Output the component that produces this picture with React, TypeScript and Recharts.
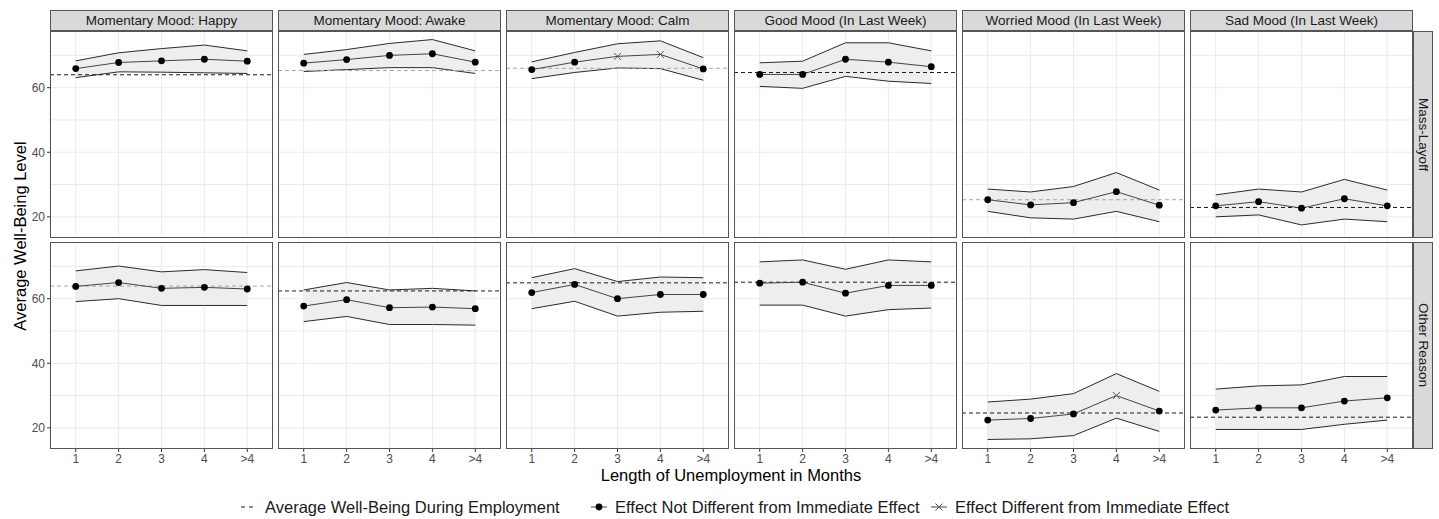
import React from 'react';
import { ComposedChart, Area, Line, XAxis, YAxis, CartesianGrid, ReferenceLine } from 'recharts';

const months = ['1', '2', '3', '4', '>4'];
const measures = [
  'Momentary Mood: Happy',
  'Momentary Mood: Awake',
  'Momentary Mood: Calm',
  'Good Mood (In Last Week)',
  'Worried Mood (In Last Week)',
  'Sad Mood (In Last Week)',
];
const reasons = ['Mass-Layoff', 'Other Reason'];
const yTicks = [20, 40, 60];

// Mass-Layoff row, one list per measure
const massMean = [
  [65.9, 67.8, 68.3, 68.8, 68.2],
  [67.6, 68.7, 70.0, 70.5, 67.9],
  [65.6, 67.9, 69.7, 70.3, 65.8],
  [64.1, 64.1, 68.8, 67.9, 66.5],
  [25.3, 23.7, 24.4, 27.8, 23.6],
  [23.4, 24.7, 22.7, 25.6, 23.4],
];
const massLower = [
  [63.1, 64.9, 64.8, 64.6, 64.4],
  [65.0, 65.6, 66.2, 66.2, 64.4],
  [62.8, 64.7, 66.1, 65.9, 62.3],
  [60.4, 59.8, 63.5, 62.0, 61.3],
  [21.7, 19.7, 19.3, 21.7, 18.5],
  [20.0, 20.6, 17.5, 19.3, 18.5],
];
const massUpper = [
  [68.3, 70.8, 72.1, 73.2, 71.4],
  [70.3, 71.8, 73.7, 74.9, 71.4],
  [68.0, 70.9, 73.6, 74.5, 69.3],
  [67.7, 68.2, 73.9, 73.9, 71.4],
  [28.6, 27.7, 29.4, 33.7, 28.3],
  [26.8, 28.6, 27.7, 31.6, 28.3],
];
const massEmployed = [64.0, 65.3, 66.0, 64.7, 25.3, 22.9];
const massDifferent = [[], [], ['3', '4'], [], [], []];

// Other Reason row
const otherMean = [
  [63.8, 65.0, 63.2, 63.5, 63.0],
  [57.7, 59.7, 57.2, 57.4, 56.9],
  [61.9, 64.4, 60.0, 61.3, 61.3],
  [64.8, 65.1, 61.7, 64.1, 64.1],
  [22.4, 22.9, 24.3, 30.0, 25.2],
  [25.5, 26.2, 26.2, 28.3, 29.3],
];
const otherLower = [
  [59.1, 60.0, 57.9, 57.9, 57.9],
  [52.9, 54.5, 52.0, 52.0, 51.8],
  [56.9, 59.2, 54.6, 55.8, 56.1],
  [58.0, 58.0, 54.6, 56.6, 57.1],
  [16.4, 16.6, 17.6, 23.0, 18.9],
  [19.5, 19.5, 19.5, 21.1, 22.4],
];
const otherUpper = [
  [68.6, 70.1, 68.3, 69.0, 68.1],
  [62.7, 65.0, 62.7, 63.2, 62.4],
  [66.5, 69.3, 65.3, 66.7, 66.5],
  [71.4, 72.0, 69.1, 72.0, 71.4],
  [28.0, 28.9, 30.6, 36.8, 31.3],
  [32.0, 33.0, 33.3, 35.9, 35.9],
];
const otherEmployed = [63.9, 62.4, 64.9, 65.1, 24.6, 23.3];
const otherDifferent = [[], [], [], [], ['4'], []];

// some of the dashed lines came out light grey in the original
const refGrey = [
  [false, true, true, false, true, false],
  [true, false, false, false, false, false],
];

const FONT = '"Liberation Sans", Arial, sans-serif';
const COL_LEFT = [50, 278, 506, 734, 962, 1190];
const ROW_TOP = [31, 242];
const PANEL_W = 223;
const PANEL_H = 207;
const Y_AXIS_W = 50;
const X_AXIS_H = 28;

const renderDot = (props: any) => {
  const { cx, cy, payload, index } = props;
  if (cx == null || cy == null) return <g key={`e${index}`} />;
  if (payload.diff) {
    const s = 3.5;
    return (
      <path
        key={`x${index}`}
        d={`M${cx - s},${cy - s}L${cx + s},${cy + s}M${cx - s},${cy + s}L${cx + s},${cy - s}`}
        stroke="#555"
        strokeWidth={1}
        fill="none"
      />
    );
  }
  return <circle key={`c${index}`} cx={cx} cy={cy} r={3.4} fill="#000" />;
};

const Panel = ({ row, col }: { row: number; col: number }) => {
  const mean = row === 0 ? massMean[col] : otherMean[col];
  const lower = row === 0 ? massLower[col] : otherLower[col];
  const upper = row === 0 ? massUpper[col] : otherUpper[col];
  const employed = row === 0 ? massEmployed[col] : otherEmployed[col];
  const different: string[] = row === 0 ? massDifferent[col] : otherDifferent[col];

  const data = months.map((m, i) => ({
    x: i + 1,
    mean: mean[i],
    lower: lower[i],
    upper: upper[i],
    band: [lower[i], upper[i]],
    diff: different.includes(m),
  }));

  const showY = col === 0;
  const showX = row === 1;
  const yW = showY ? Y_AXIS_W : 0;
  const xH = showX ? X_AXIS_H : 0;

  return (
    <>
      <div style={{ position: 'absolute', left: COL_LEFT[col] - yW, top: ROW_TOP[row] }}>
        <ComposedChart
          width={PANEL_W + yW}
          height={PANEL_H + xH}
          data={data}
          margin={{ top: 0, right: 0, bottom: 0, left: 0 }}
        >
          <CartesianGrid stroke="#ebebeb" strokeWidth={1} horizontalValues={[20, 30, 40, 50, 60, 70]} />
          <XAxis
            type="number"
            dataKey="x"
            domain={[0.4, 5.6]}
            ticks={[1, 2, 3, 4, 5]}
            tickFormatter={(v: number) => months[v - 1]}
            allowDataOverflow
            hide={!showX}
            height={xH}
            axisLine={false}
            tickSize={3}
            tickLine={{ stroke: '#333' }}
            tick={{ fontSize: 12, fill: '#4d4d4d', fontFamily: FONT }}
          />
          <YAxis
            type="number"
            domain={[13.45, 77.55]}
            ticks={yTicks}
            allowDataOverflow
            hide={!showY}
            width={yW}
            axisLine={false}
            tickSize={3}
            tickLine={{ stroke: '#333' }}
            tick={{ fontSize: 12, fill: '#4d4d4d', fontFamily: FONT }}
          />
          <Area dataKey="band" fill="#eeeeee" fillOpacity={1} stroke="none" isAnimationActive={false} />
          <Line dataKey="upper" stroke="#2b2b2b" strokeWidth={1} dot={false} isAnimationActive={false} />
          <Line dataKey="lower" stroke="#2b2b2b" strokeWidth={1} dot={false} isAnimationActive={false} />
          <ReferenceLine
            y={employed}
            stroke={refGrey[row][col] ? '#a6a6a6' : '#1a1a1a'}
            strokeWidth={1}
            strokeDasharray="4 3"
          />
          <Line dataKey="mean" stroke="#444" strokeWidth={1} dot={renderDot} isAnimationActive={false} />
        </ComposedChart>
      </div>
      <div
        style={{
          position: 'absolute',
          left: COL_LEFT[col],
          top: ROW_TOP[row],
          width: PANEL_W,
          height: PANEL_H,
          border: '1px solid #555',
          boxSizing: 'border-box',
          pointerEvents: 'none',
        }}
      />
    </>
  );
};

const stripStyle: React.CSSProperties = {
  position: 'absolute',
  background: '#d9d9d9',
  border: '1px solid #555',
  boxSizing: 'border-box',
  color: '#1a1a1a',
  fontSize: 13.5,
  display: 'flex',
  alignItems: 'center',
  justifyContent: 'center',
  whiteSpace: 'nowrap',
};

const LegendItem = ({ left, glyph, label }: { left: number; glyph: React.ReactNode; label: string }) => (
  <div style={{ position: 'absolute', left, top: 497, height: 20, display: 'flex', alignItems: 'center' }}>
    <svg width={18} height={20} style={{ marginRight: 7 }}>
      {glyph}
    </svg>
    <span style={{ fontSize: 16.5, color: '#1a1a1a', whiteSpace: 'nowrap' }}>{label}</span>
  </div>
);

export default function App() {
  return (
    <div
      style={{
        position: 'absolute',
        left: 0,
        top: 0,
        width: 1439,
        height: 519,
        background: '#fff',
        fontFamily: FONT,
        overflow: 'hidden',
      }}
    >
      {measures.map((m, c) => (
        <div key={m} style={{ ...stripStyle, left: COL_LEFT[c], top: 10, width: PANEL_W, height: 21 }}>
          {m}
        </div>
      ))}
      {reasons.map((r, i) => (
        <div
          key={r}
          style={{
            ...stripStyle,
            left: COL_LEFT[5] + PANEL_W,
            top: ROW_TOP[i],
            width: 20,
            height: PANEL_H,
            writingMode: 'vertical-rl',
          }}
        >
          {r}
        </div>
      ))}
      {[0, 1].map((r) => measures.map((m, c) => <Panel key={`${r}-${c}`} row={r} col={c} />))}

      <div
        style={{
          position: 'absolute',
          left: 20,
          top: 236,
          transform: 'translate(-50%, -50%) rotate(-90deg)',
          fontSize: 16.5,
          color: '#000',
          whiteSpace: 'nowrap',
        }}
      >
        Average Well-Being Level
      </div>
      <div
        style={{
          position: 'absolute',
          left: 731,
          top: 475,
          transform: 'translate(-50%, -50%)',
          fontSize: 16.5,
          color: '#000',
          whiteSpace: 'nowrap',
        }}
      >
        Length of Unemployment in Months
      </div>

      <LegendItem
        left={240}
        label="Average Well-Being During Employment"
        glyph={<line x1={1} y1={10} x2={17} y2={10} stroke="#1a1a1a" strokeWidth={1} strokeDasharray="4 4" />}
      />
      <LegendItem
        left={590}
        label="Effect Not Different from Immediate Effect"
        glyph={
          <g>
            <line x1={1} y1={10} x2={17} y2={10} stroke="#444" strokeWidth={1} />
            <circle cx={9} cy={10} r={3.4} fill="#000" />
          </g>
        }
      />
      <LegendItem
        left={930}
        label="Effect Different from Immediate Effect"
        glyph={
          <g>
            <line x1={1} y1={10} x2={17} y2={10} stroke="#444" strokeWidth={1} />
            <path d="M5.5,6.5L12.5,13.5M5.5,13.5L12.5,6.5" stroke="#555" strokeWidth={1} />
          </g>
        }
      />
    </div>
  );
}
